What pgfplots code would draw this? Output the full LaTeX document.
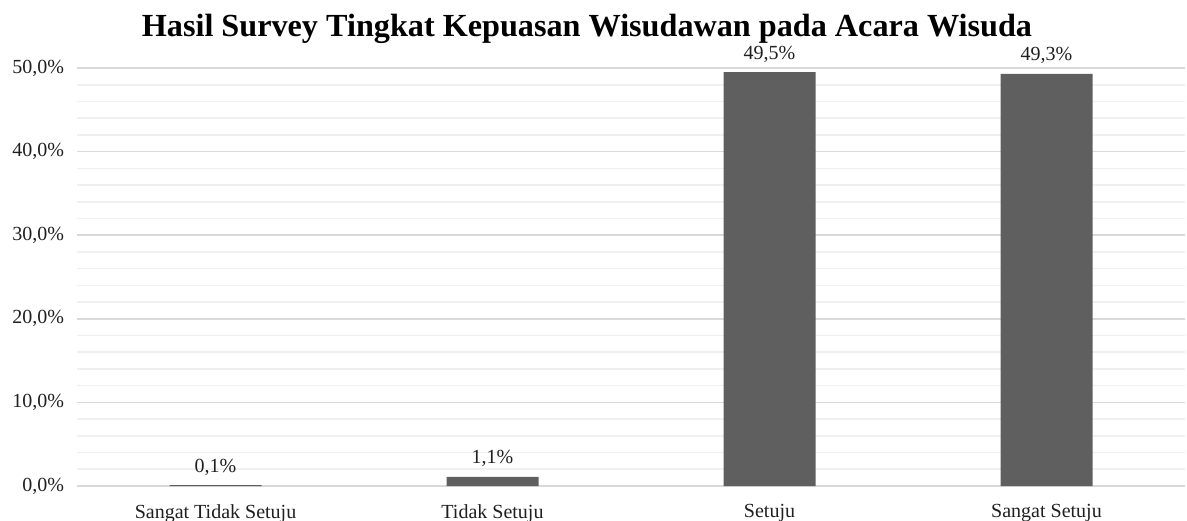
\documentclass[border=0pt]{standalone}
\usepackage{fontspec}
\setmainfont{Liberation Serif}
\usepackage{pgfplots}
\pgfplotsset{compat=1.18}

\definecolor{barfill}{HTML}{5F5F5F}
\definecolor{gridmajor}{HTML}{D9D9D9}
\definecolor{gridminor}{HTML}{F0F0F0}
\definecolor{txt}{HTML}{1F1F1F}

\begin{document}
\begin{tikzpicture}
  \begin{axis}[
      scale only axis,
      width=554pt, height=209pt,
      ybar, bar width=46pt,
      xmin=-0.5, xmax=3.5,
      ymin=0, ymax=50,
      xtick=data,
      xticklabels={Sangat Tidak Setuju, Tidak Setuju, Setuju, Sangat Setuju},
      ytick={0,10,20,30,40,50},
      minor y tick num=4,
      ymajorgrids, yminorgrids,
      major grid style={draw=gridmajor, line width=0.8pt},
      minor grid style={draw=gridminor, line width=0.8pt},
      axis line style={draw=none},
      tick style={draw=none},
      /pgf/number format/assume math mode=true,
      yticklabel={\pgfmathprintnumber[fixed,fixed zerofill,precision=1,use comma]{\tick}\%},
      tick label style={font=\fontsize{10}{12}\selectfont, text=txt},
      yticklabel style={xshift=-3pt},
      xticklabel style={yshift=-1.5pt},
      title={\textbf{Hasil Survey Tingkat Kepuasan Wisudawan pada Acara Wisuda}},
      title style={at={(axis description cs:0.4603,1)}, anchor=base, yshift=9.5pt,
                   font=\fontsize{16.1}{19}\selectfont, text=black},
      nodes near coords={\pgfmathprintnumber[fixed,fixed zerofill,precision=1,use comma]{\pgfplotspointmeta}\%},
      nodes near coords style={font=\fontsize{10}{12}\selectfont, text=txt, yshift=1.5pt},
      clip=false,
    ]
    \addplot[fill=barfill, draw=none] coordinates {
      (0,0.1) (1,1.1) (2,49.5) (3,49.3)
    };
  \end{axis}
  \pgfresetboundingbox
  \useasboundingbox (-38.5pt,-17pt) rectangle (555pt,243pt);
\end{tikzpicture}
\end{document}
